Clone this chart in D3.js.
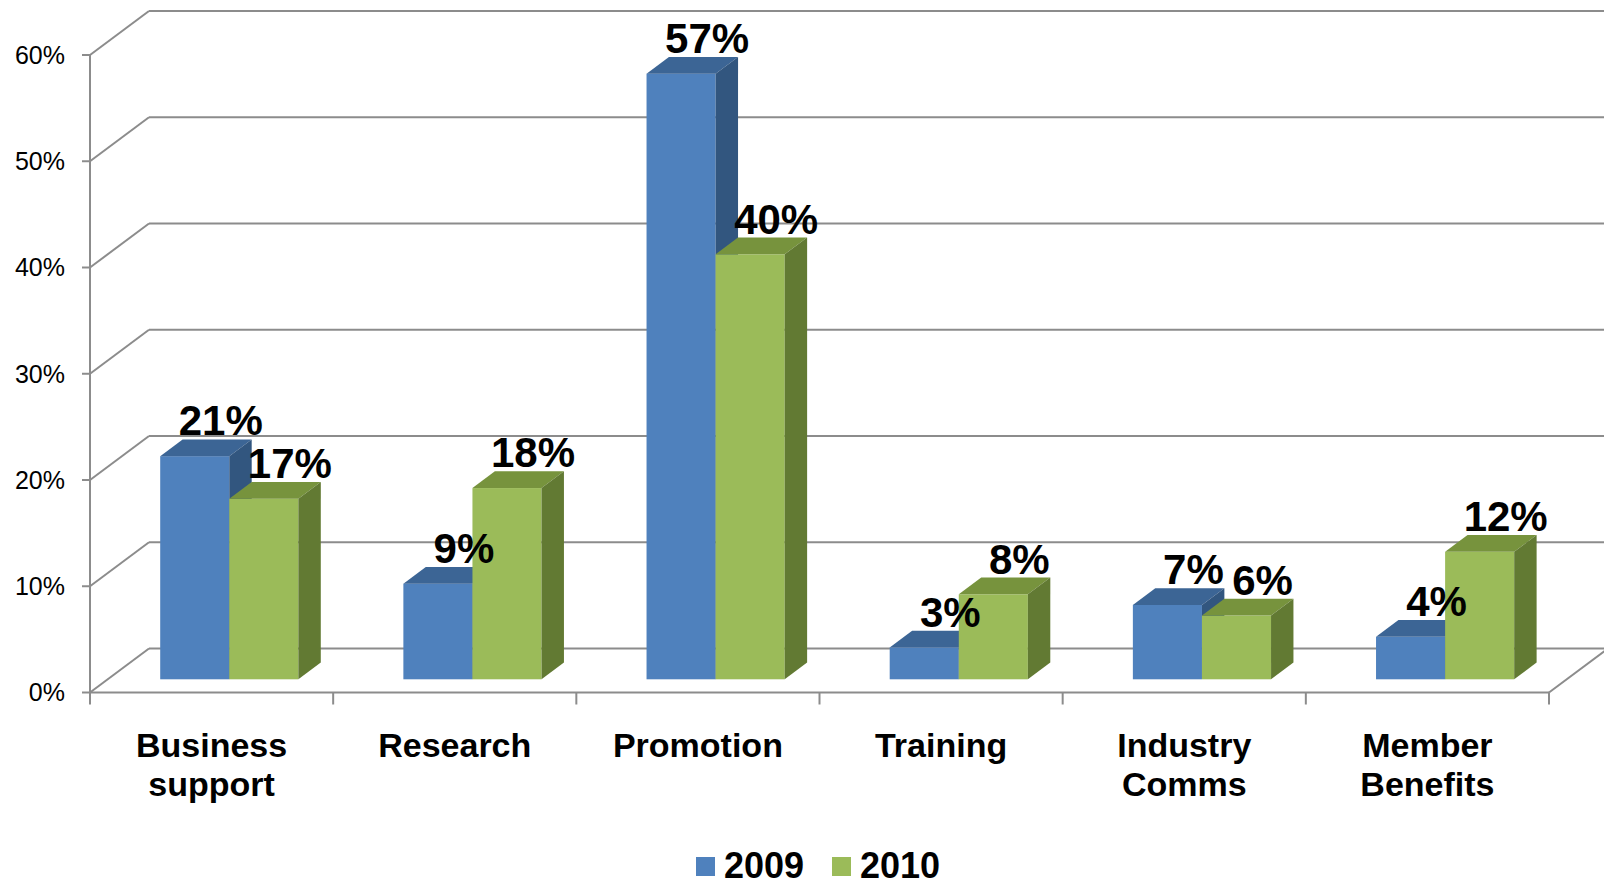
<!DOCTYPE html>
<html>
<head>
<meta charset="utf-8">
<script src="https://cdn.jsdelivr.net/npm/d3@7"></script>
<style>
  body { margin: 0; background: #fff; }
  text { font-family: "Liberation Sans", Arial, sans-serif; fill: #000; }
  .value { font-weight: bold; font-size: 42px; }
  .cat { font-weight: bold; font-size: 34px; }
  .legend { font-weight: bold; font-size: 36px; }
  .ytick { font-size: 25px; }
  .grid { stroke: #8c8c8c; stroke-width: 2; fill: none; }
</style>
</head>
<body>
<div id="chart"></div>
<script>
// data
const categories = ["Business support", "Research", "Promotion", "Training", "Industry Comms", "Member Benefits"];
const series = ["2009", "2010"];
const values2009 = [21, 9, 57, 3, 7, 4];
const values2010 = [17, 18, 40, 8, 6, 12];
const yTicks = [0, 10, 20, 30, 40, 50, 60];

const height = 881,
    width = 1604,
    margin = ({ top: 55, right: 55, bottom: 188.5, left: 90 });

// 3d look: depth vector of the floor / walls
const depthX = 59, depthY = 44;
const barFront = 0.3, barBack = 0.68; // where bars sit inside the depth

const colors = {
  "2009": { front: "#4f81bd", top: "#3c6595", side: "#32567f" },
  "2010": { front: "#9bbb59", top: "#77933d", side: "#627a33" }
};

const svg = d3.select("#chart")
    .append("svg")
    .attr("width", width)
    .attr("height", height)
    .attr("viewBox", [0, 0, width, height]);

let x = d3.scaleBand()
    .domain(categories)
    .range([margin.left, width - margin.right]);

let xs = d3.scaleBand()
    .domain(series)
    .range([0, x.bandwidth()])
    .paddingInner(0)
    .paddingOuter(0.76);

let y = d3.scaleLinear()
    .domain([0, 60])
    .range([height - margin.bottom, margin.top]);

const y0 = y(0);
const xEnd = width - margin.right;

// back wall lines + left wall diagonals
const grid = svg.append("g");
for (let t of yTicks) {
  grid.append("line").attr("class", "grid")
    .attr("x1", margin.left + depthX).attr("x2", width + 10)
    .attr("y1", y(t) - depthY).attr("y2", y(t) - depthY);
  grid.append("line").attr("class", "grid")
    .attr("x1", margin.left).attr("x2", margin.left + depthX)
    .attr("y1", y(t)).attr("y2", y(t) - depthY);
  grid.append("line").attr("class", "grid")
    .attr("x1", margin.left - 8).attr("x2", margin.left)
    .attr("y1", y(t)).attr("y2", y(t));
}

// left axis, floor front edge, right floor edge
grid.append("line").attr("class", "grid")
  .attr("x1", margin.left).attr("x2", margin.left)
  .attr("y1", y(60)).attr("y2", y0 + 12);
grid.append("line").attr("class", "grid")
  .attr("x1", margin.left).attr("x2", xEnd)
  .attr("y1", y0).attr("y2", y0);
grid.append("line").attr("class", "grid")
  .attr("x1", xEnd).attr("x2", xEnd + depthX)
  .attr("y1", y0).attr("y2", y0 - depthY);

// category ticks
for (let i = 1; i <= categories.length; i++) {
  let bx = margin.left + i * x.step();
  grid.append("line").attr("class", "grid")
    .attr("x1", bx).attr("x2", bx)
    .attr("y1", y0).attr("y2", y0 + 12);
}

// y labels
svg.append("g").selectAll("text")
  .data(yTicks)
  .join("text")
    .attr("class", "ytick")
    .attr("x", 65)
    .attr("y", d => y(d))
    .attr("dy", "0.35em")
    .attr("text-anchor", "end")
    .text(d => d + "%");

// bars
const bars = [];
categories.forEach((c, i) => {
  bars.push({ cat: c, s: "2009", v: values2009[i] });
  bars.push({ cat: c, s: "2010", v: values2010[i] });
});

const fx = barFront * depthX, fy = barFront * depthY;
const dx = (barBack - barFront) * depthX, dy = (barBack - barFront) * depthY;
const w = xs.bandwidth();

const barG = svg.append("g");
for (let b of bars) {
  let x0 = x(b.cat) + xs(b.s) + fx;
  let yt = y(b.v) - fy;
  let yb = y0 - fy;
  let col = colors[b.s];
  barG.append("rect")
    .attr("x", x0).attr("y", yt)
    .attr("width", w).attr("height", yb - yt)
    .attr("fill", col.front);
  barG.append("path")
    .attr("d", `M${x0},${yt}L${x0 + w},${yt}L${x0 + w + dx},${yt - dy}L${x0 + dx},${yt - dy}Z`)
    .attr("fill", col.top);
  barG.append("path")
    .attr("d", `M${x0 + w},${yt}L${x0 + w + dx},${yt - dy}L${x0 + w + dx},${yb - dy}L${x0 + w},${yb}Z`)
    .attr("fill", col.side);
}

// value labels
svg.append("g").selectAll("text")
  .data(bars)
  .join("text")
    .attr("class", "value")
    .attr("text-anchor", "middle")
    .attr("x", d => x(d.cat) + xs(d.s) + fx + w / 2 + 26)
    .attr("y", d => y(d.v) - fy - dy - 4)
    .text(d => d.v + "%");

// category labels (split into lines)
const catG = svg.append("g");
for (let c of categories) {
  let t = catG.append("text")
    .attr("class", "cat")
    .attr("text-anchor", "middle")
    .attr("x", x(c) + x.bandwidth() / 2)
    .attr("y", 757);
  c.split(" ").forEach((word, j) => {
    t.append("tspan")
      .attr("x", x(c) + x.bandwidth() / 2)
      .attr("dy", j === 0 ? 0 : 39)
      .text(word);
  });
}

// legend
const legend = svg.append("g")
  .attr("transform", "translate(696,857)");
series.forEach((s, i) => {
  let g = legend.append("g").attr("transform", `translate(${i * 136},0)`);
  g.append("rect").attr("width", 19).attr("height", 19).attr("fill", colors[s].front);
  g.append("text").attr("class", "legend").attr("x", 28).attr("y", 21).text(s);
});
</script>
</body>
</html>
